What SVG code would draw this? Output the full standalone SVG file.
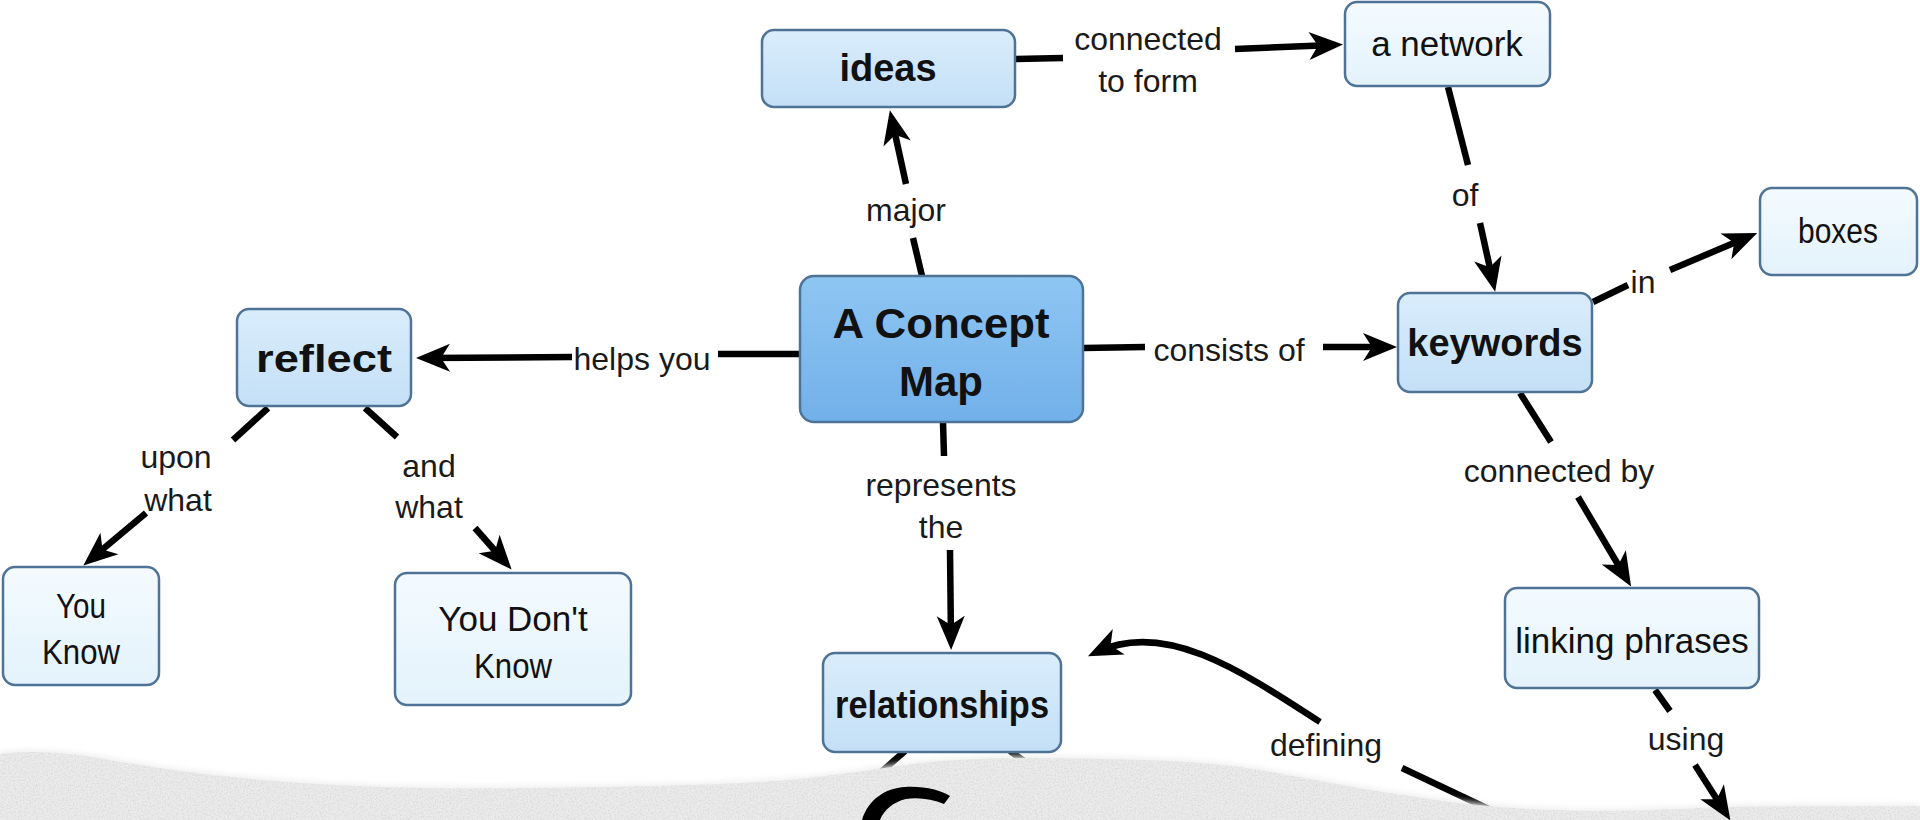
<svg xmlns="http://www.w3.org/2000/svg" width="1920" height="820" viewBox="0 0 1920 820">
  <defs>
    <linearGradient id="gMid" x1="0" y1="0" x2="0" y2="1">
      <stop offset="0" stop-color="#d9edfc"/>
      <stop offset="1" stop-color="#c4dff6"/>
    </linearGradient>
    <linearGradient id="gLight" x1="0" y1="0" x2="0" y2="1">
      <stop offset="0" stop-color="#f4fbff"/>
      <stop offset="1" stop-color="#e3f2fb"/>
    </linearGradient>
    <linearGradient id="gCore" x1="0" y1="0" x2="0" y2="1">
      <stop offset="0" stop-color="#8ec6f3"/>
      <stop offset="1" stop-color="#72b0e9"/>
    </linearGradient>
    <marker id="ah" markerUnits="userSpaceOnUse" viewBox="0 0 34 30" markerWidth="34" markerHeight="30" refX="24" refY="15" orient="auto" overflow="visible">
      <path d="M34,15 L0,1 L9,15 L0,29 Z" fill="#000"/>
    </marker>
    <filter id="grain" x="0" y="0" width="100%" height="100%">
      <feTurbulence type="fractalNoise" baseFrequency="0.6" numOctaves="3" seed="7" result="n"/>
      <feColorMatrix in="n" type="matrix" values="0 0 0 0 0.6  0 0 0 0 0.6  0 0 0 0 0.6  0 0 0 1.2 -0.48" result="g"/>
      <feComposite in="g" in2="SourceGraphic" operator="in"/>
    </filter>
    <filter id="soft" x="-5%" y="-50%" width="110%" height="200%">
      <feGaussianBlur stdDeviation="3"/>
    </filter>
    <style>
      .node rect { stroke: #4f7396; stroke-width: 2.5; }
      .mid { fill: url(#gMid); }
      .light { fill: url(#gLight); }
      .core { fill: url(#gCore); }
      text { font-family: "Liberation Sans", Arial, sans-serif; fill: #111; text-anchor: middle; }
      .n { font-size: 35px; }
      .b { font-size: 38px; font-weight: bold; }
      .lbl { font-size: 32px; fill: #1a1a1a; }
      .con line, .con path { stroke: #000; stroke-width: 6.5; fill: none; stroke-linecap: butt; }
      .arr { marker-end: url(#ah); }
    </style>
  </defs>

  <rect width="1920" height="820" fill="#ffffff"/>

  <!-- links that run down beneath the torn paper strip -->
  <g id="under-links" class="con">
    <line x1="905" y1="751" x2="855" y2="795"/>
    <line x1="1010" y1="751" x2="1048" y2="778"/>
    <line x1="1402" y1="768" x2="1495" y2="812"/>
  </g>

  <!-- torn paper strip along the bottom -->
  <g id="paper">
    <path d="M0,752 C40,747 80,752 120,760 C180,770 240,777 300,781 C400,788 500,787 600,785 C680,784 740,782 790,778 C840,773 880,766 930,760 C980,756 1030,755 1100,757 C1160,758 1200,760 1240,765 C1290,773 1330,781 1370,788 C1420,796 1460,802 1500,805 C1560,810 1620,810 1700,806 C1780,803 1850,805 1920,804 L1920,820 L0,820 Z" fill="#eeeeee" filter="url(#soft)"/>
    <path d="M0,754 C40,749 80,754 120,762 C180,772 240,779 300,783 C400,790 500,789 600,787 C680,786 740,784 790,780 C840,775 880,768 930,762 C980,758 1030,757 1100,759 C1160,760 1200,762 1240,767 C1290,775 1330,783 1370,790 C1420,798 1460,804 1500,807 C1560,812 1620,812 1700,808 C1780,805 1850,807 1920,806 L1920,820 L0,820 Z" fill="#ebebeb"/>
    <path d="M0,754 C40,749 80,754 120,762 C180,772 240,779 300,783 C400,790 500,789 600,787 C680,786 740,784 790,780 C840,775 880,768 930,762 C980,758 1030,757 1100,759 C1160,760 1200,762 1240,767 C1290,775 1330,783 1370,790 C1420,798 1460,804 1500,807 C1560,812 1620,812 1700,808 C1780,805 1850,807 1920,806 L1920,820 L0,820 Z" fill="#ebebeb" filter="url(#grain)"/>
    <path d="M862,820 C868,800 885,788 905,787 C925,786 940,790 950,796 L944,804 C932,799 918,797 906,799 C893,802 884,810 880,820 Z" fill="#000"/>
  </g>

  <!-- connectors -->
  <g id="connectors" class="con">
    <!-- ideas -> a network -->
    <line x1="1015" y1="59" x2="1063" y2="58"/>
    <line class="arr" x1="1235" y1="49" x2="1333" y2="45"/>
    <!-- a network -> keywords -->
    <line x1="1448" y1="87" x2="1468" y2="165"/>
    <line class="arr" x1="1480" y1="223" x2="1493" y2="282"/>
    <!-- keywords -> boxes -->
    <line x1="1593" y1="302" x2="1628" y2="285"/>
    <line class="arr" x1="1670" y1="270" x2="1748" y2="237"/>
    <!-- A Concept Map -> ideas -->
    <line x1="922" y1="276" x2="913" y2="238"/>
    <line class="arr" x1="906" y1="184" x2="892" y2="120"/>
    <!-- A Concept Map -> reflect -->
    <line x1="800" y1="354" x2="718" y2="354"/>
    <line class="arr" x1="572" y1="357" x2="426" y2="358"/>
    <!-- A Concept Map -> keywords -->
    <line x1="1083" y1="348" x2="1145" y2="347"/>
    <line class="arr" x1="1323" y1="347" x2="1387" y2="347"/>
    <!-- A Concept Map -> relationships -->
    <line x1="943" y1="422" x2="944" y2="456"/>
    <line class="arr" x1="950" y1="550" x2="951" y2="640"/>
    <!-- reflect -> You Know -->
    <line x1="268" y1="408" x2="233" y2="440"/>
    <line class="arr" x1="146" y1="513" x2="91" y2="559"/>
    <!-- reflect -> You Don't Know -->
    <line x1="365" y1="408" x2="397" y2="437"/>
    <line class="arr" x1="475" y1="528" x2="505" y2="562"/>
    <!-- keywords -> linking phrases -->
    <line x1="1520" y1="393" x2="1551" y2="442"/>
    <line class="arr" x1="1578" y1="497" x2="1626" y2="578"/>
    <!-- linking phrases -> (below) -->
    <line x1="1655" y1="690" x2="1670" y2="711"/>
    <line class="arr" x1="1695" y1="765" x2="1725" y2="812"/>
    <!-- defining -> relationships -->
    <path class="arr" d="M1320,722 C1240,670 1165,620 1097,652"/>
  </g>

  <!-- linking phrase labels -->
  <g id="labels">
    <text class="lbl" x="1148" y="50">connected</text>
    <text class="lbl" x="1148" y="92">to form</text>
    <text class="lbl" x="1465" y="206">of</text>
    <text class="lbl" x="1643" y="293">in</text>
    <text class="lbl" x="906" y="221">major</text>
    <text class="lbl" x="642" y="370">helps you</text>
    <text class="lbl" x="1229" y="361">consists of</text>
    <text class="lbl" x="941" y="496">represents</text>
    <text class="lbl" x="941" y="538">the</text>
    <text class="lbl" x="176" y="468">upon</text>
    <text class="lbl" x="178" y="511">what</text>
    <text class="lbl" x="429" y="477">and</text>
    <text class="lbl" x="429" y="518">what</text>
    <text class="lbl" x="1559" y="482">connected by</text>
    <text class="lbl" x="1686" y="750">using</text>
    <text class="lbl" x="1326" y="756">defining</text>
  </g>

  <!-- concepts -->
  <g id="node-ideas" class="node">
    <rect class="mid" x="762" y="30" width="253" height="77" rx="12"/>
    <text class="b" x="888" y="81">ideas</text>
  </g>
  <g id="node-network" class="node">
    <rect class="light" x="1345" y="2" width="205" height="84" rx="12"/>
    <text class="n" x="1447" y="56">a network</text>
  </g>
  <g id="node-boxes" class="node">
    <rect class="light" x="1760" y="188" width="157" height="87" rx="12"/>
    <text class="n" x="1838" y="243" textLength="80" lengthAdjust="spacingAndGlyphs">boxes</text>
  </g>
  <g id="node-concept-map" class="node">
    <rect class="core" x="800" y="276" width="283" height="146" rx="14"/>
    <text class="b" style="font-size:42px" x="941" y="338" textLength="217" lengthAdjust="spacingAndGlyphs">A Concept</text>
    <text class="b" style="font-size:42px" x="941" y="396">Map</text>
  </g>
  <g id="node-keywords" class="node">
    <rect class="mid" x="1398" y="293" width="194" height="99" rx="12"/>
    <text class="b" x="1495" y="356">keywords</text>
  </g>
  <g id="node-reflect" class="node">
    <rect class="mid" x="237" y="309" width="174" height="97" rx="12"/>
    <text class="b" x="324" y="372" textLength="136" lengthAdjust="spacingAndGlyphs">reflect</text>
  </g>
  <g id="node-you-know" class="node">
    <rect class="light" x="3" y="567" width="156" height="118" rx="12"/>
    <text class="n" x="81" y="618" textLength="50" lengthAdjust="spacingAndGlyphs">You</text>
    <text class="n" x="81" y="664" textLength="78" lengthAdjust="spacingAndGlyphs">Know</text>
  </g>
  <g id="node-you-dont-know" class="node">
    <rect class="light" x="395" y="573" width="236" height="132" rx="12"/>
    <text class="n" x="513" y="631">You Don't</text>
    <text class="n" x="513" y="678" textLength="78" lengthAdjust="spacingAndGlyphs">Know</text>
  </g>
  <g id="node-relationships" class="node">
    <rect class="mid" x="823" y="653" width="238" height="99" rx="12"/>
    <text class="b" x="942" y="718" textLength="214" lengthAdjust="spacingAndGlyphs">relationships</text>
  </g>
  <g id="node-linking-phrases" class="node">
    <rect class="light" x="1505" y="588" width="254" height="100" rx="12"/>
    <text class="n" x="1632" y="653">linking phrases</text>
  </g>
</svg>
